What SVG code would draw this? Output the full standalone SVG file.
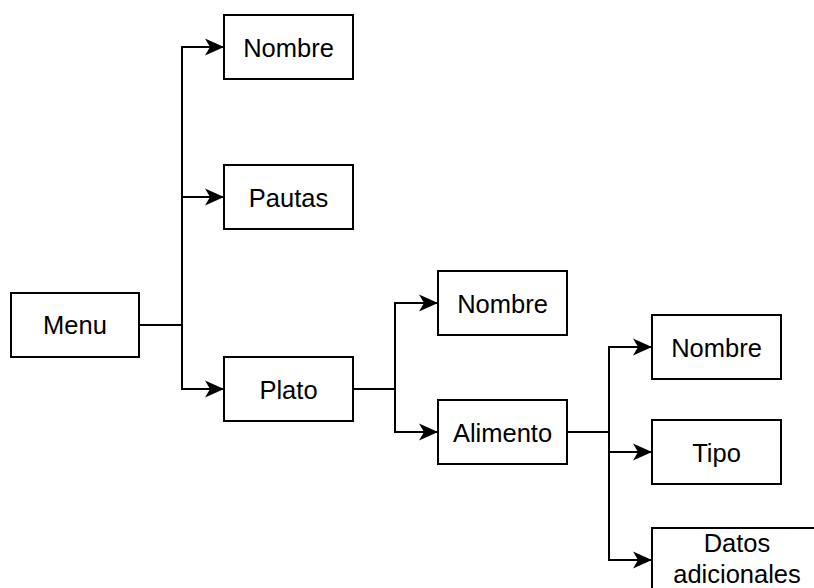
<svg xmlns="http://www.w3.org/2000/svg" width="814" height="588" viewBox="0 0 814 588">
<defs>
<marker id="arr" markerUnits="userSpaceOnUse" markerWidth="20" markerHeight="20" viewBox="0 0 20 20" refX="19" refY="10" orient="auto">
<path d="M0,1.5 L19,10 L0,18.5 L5,10 Z" fill="#000"/>
</marker>
<style>
.box{fill:#fff;stroke:#000;stroke-width:2}
.lbl{font-family:"Liberation Sans",Arial,sans-serif;font-size:25.5px;fill:#000;text-anchor:middle}
.c{fill:none;stroke:#000;stroke-width:2}
</style>
</defs>
<rect width="814" height="588" fill="#fff"/>
<g id="connectors">
<path class="c" d="M139,325 H182 V47 H224" marker-end="url(#arr)"/>
<path class="c" d="M182,197 H224" marker-end="url(#arr)"/>
<path class="c" d="M182,325 V389 H224" marker-end="url(#arr)"/>
<path class="c" d="M353,389 H395 V303 H438" marker-end="url(#arr)"/>
<path class="c" d="M395,389 V432 H438" marker-end="url(#arr)"/>
<path class="c" d="M567,432 H609 V347 H652" marker-end="url(#arr)"/>
<path class="c" d="M609,432 V452 H652" marker-end="url(#arr)"/>
<path class="c" d="M609,452 V560 H652" marker-end="url(#arr)"/>
</g>
<g id="menu"><rect class="box" x="11" y="293" width="128" height="64"/><text class="lbl" x="75" y="334">Menu</text></g>
<g id="nombre1"><rect class="box" x="224" y="15" width="129" height="64"/><text class="lbl" x="288.5" y="56.5">Nombre</text></g>
<g id="pautas"><rect class="box" x="224" y="165" width="129" height="64"/><text class="lbl" x="288.5" y="206.5">Pautas</text></g>
<g id="plato"><rect class="box" x="224" y="357" width="129" height="64"/><text class="lbl" x="288.5" y="398.5">Plato</text></g>
<g id="nombre2"><rect class="box" x="438" y="271" width="129" height="64"/><text class="lbl" x="502.5" y="312.5">Nombre</text></g>
<g id="alimento"><rect class="box" x="438" y="400" width="129" height="64"/><text class="lbl" x="502.5" y="441.5">Alimento</text></g>
<g id="nombre3"><rect class="box" x="652" y="315" width="129" height="64"/><text class="lbl" x="716.5" y="356.5">Nombre</text></g>
<g id="tipo"><rect class="box" x="652" y="420" width="129" height="64"/><text class="lbl" x="716.5" y="461.5">Tipo</text></g>
<g id="datos"><rect class="box" x="652" y="528" width="170" height="64"/><text class="lbl" x="737" y="552">Datos</text><text class="lbl" x="737" y="583">adicionales</text></g>
</svg>
